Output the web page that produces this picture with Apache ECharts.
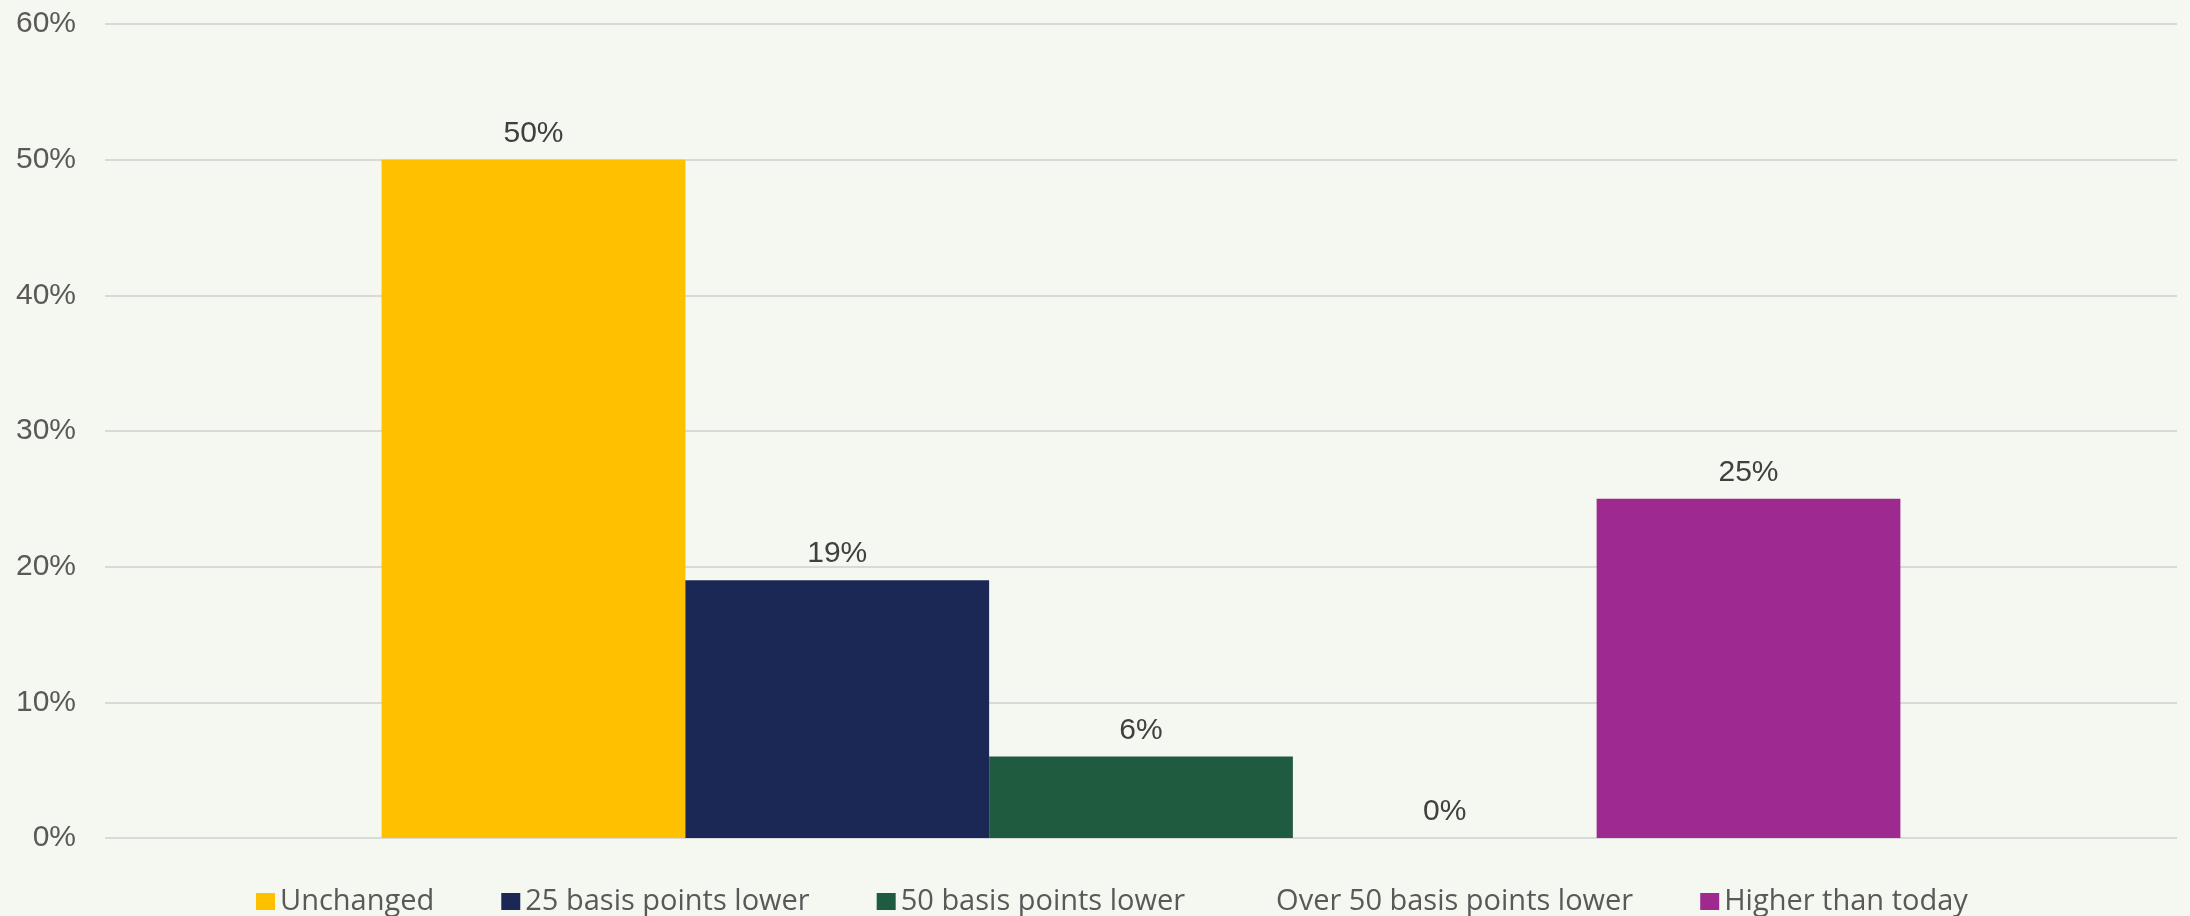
<!DOCTYPE html>
<html>
<head>
<meta charset="utf-8">
<title>Rate expectations</title>
<script src="https://cdn.jsdelivr.net/npm/echarts@6/dist/echarts.min.js"></script>
<style>
  html, body { margin: 0; padding: 0; background: #F5F7F1; }
  #chart { width: 2190px; height: 916px; }
</style>
</head>
<body>
<div id="chart"></div>
<script>
// Survey answers (share of respondents, %)
const seriesNames = ['Unchanged', '25 basis points lower', '50 basis points lower', 'Over 50 basis points lower', 'Higher than today'];
const seriesValues = [50, 19, 6, 0, 25];
const seriesColors = ['#FFC000', '#1B2755', '#1F5C3F', 'transparent', '#9E2A90'];
const categories = [''];
const yTicks = { min: 0, max: 60, interval: 10 };

const chart = echarts.init(document.getElementById('chart'));

const series = seriesNames.map((name, i) => ({
  name: name,
  type: 'bar',
  data: [seriesValues[i]],
  barGap: 0,
  barCategoryGap: '26.7%',
  itemStyle: { color: seriesColors[i] },
  label: {
    show: true,
    position: 'top',
    distance: 11,
    formatter: '{c}%',
    color: '#404040',
    fontFamily: 'Liberation Sans, Arial, sans-serif',
    fontSize: 30
  }
}));

chart.setOption({
  backgroundColor: '#F5F7F1',
  animation: false,
  grid: { left: 105, right: 13, top: 24, bottom: 78, containLabel: false, outerBoundsMode: 'none' },
  legend: {
    data: seriesNames,
    top: 882,
    left: 251,
    itemWidth: 19,
    itemHeight: 17,
    itemGap: 67,
    icon: 'rect',
    textStyle: { color: '#595959', fontFamily: 'Open Sans, sans-serif', fontSize: 29 }
  },
  xAxis: {
    type: 'category',
    data: categories,
    axisLine: { show: false },
    axisTick: { show: false },
    axisLabel: { show: false }
  },
  yAxis: {
    type: 'value',
    min: yTicks.min,
    max: yTicks.max,
    interval: yTicks.interval,
    axisLine: { show: false },
    axisTick: { show: false },
    splitLine: { lineStyle: { color: '#D9D9D9', width: 2 } },
    axisLabel: {
      formatter: '{value}%',
      color: '#595959',
      fontFamily: 'Liberation Sans, Arial, sans-serif',
      fontSize: 30,
      margin: 29
    }
  },
  series: series
});
</script>
</body>
</html>
